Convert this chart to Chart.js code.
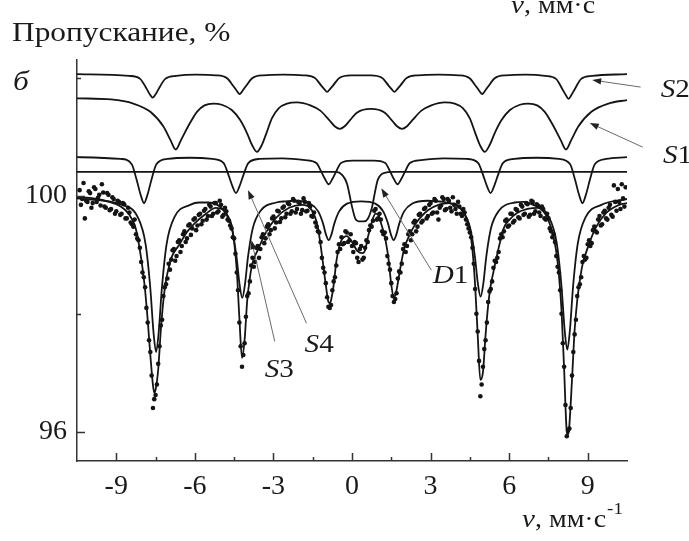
<!DOCTYPE html>
<html>
<head>
<meta charset="utf-8">
<script src="https://cdn.jsdelivr.net/npm/chart.js@4.4.1/dist/chart.umd.min.js"></script>
<style>
  html, body { margin: 0; padding: 0; background: #fff; }
  #wrap { position: relative; width: 689px; height: 541px; }
</style>
</head>
<body>
<div id="wrap"><canvas id="mossChart"></canvas></div>
<script>
// axis limits and ticks (v in mm/s, transmission in %)
const xMin = -10.5, xMax = 10.5;
const yMin = 95.5, yMax = 102.31;
const xTickValues = [-9, -6, -3, 0, 3, 6, 9];
const xMinorTicks = [-7.5, -4.5, -1.5, 1.5, 4.5, 7.5];
const yTickValues = [96, 100];
const yMinorTicks = [98, 102];

const gridStartA = -10.4, gridStartB = -10.35, gridStep = 0.1;
const pointTA = [
  100.10, 99.95, 99.62, 99.90, 100.05, 99.88, 100.12, 99.97, 99.84, 100.06,
  99.80, 100.02, 99.78, 99.95, 99.74, 99.90, 99.70, 99.86, 99.62, 99.72,
  99.52, 99.60, 99.28, 99.12, 98.70, 98.45, 97.85, 97.35, 96.40, 96.62,
  97.15, 97.80, 98.30, 98.50, 98.85, 98.92, 99.10, 98.98, 99.25, 99.15,
  99.40, 99.28, 99.52, 99.45, 99.62, 99.50, 99.70, 99.58, 99.78, 99.66,
  99.82, 99.70, 99.88, 99.74, 99.85, 99.68, 99.74, 99.58, 99.45, 99.28,
  98.70, 97.85, 97.10, 97.50, 98.30, 98.55, 98.95, 98.88, 99.15, 99.10,
  99.35, 99.28, 99.52, 99.42, 99.65, 99.55, 99.74, 99.62, 99.82, 99.70,
  99.86, 99.74, 99.92, 99.78, 99.88, 99.76, 99.90, 99.75, 99.82, 99.65,
  99.55, 99.40, 99.22, 98.78, 98.52, 98.12, 98.15, 98.55, 98.82, 99.18,
  99.30, 99.20, 99.38, 99.25, 99.15, 99.22, 98.95, 99.10, 98.92, 99.12,
  99.22, 99.50, 99.58, 99.78, 99.62, 99.60, 99.35, 99.28, 98.85, 98.52,
  98.20, 98.35, 98.72, 98.85, 99.18, 99.15, 99.40, 99.35, 99.58, 99.48,
  99.70, 99.58, 99.80, 99.66, 99.88, 99.72, 99.92, 99.60, 99.84, 99.95,
  99.78, 99.92, 99.74, 99.85, 99.70, 99.82, 99.66, 99.72, 99.52, 99.38,
  99.12, 98.42, 97.70, 96.60, 97.10, 97.55, 98.20, 98.42, 98.78, 98.88,
  99.05, 99.35, 99.40, 99.60, 99.50, 99.70, 99.58, 99.76, 99.62, 99.82,
  99.70, 99.86, 99.68, 99.90, 99.74, 99.84, 99.66, 99.78, 99.60, 99.62,
  99.40, 99.35, 98.98, 98.70, 98.00, 97.10, 95.92, 96.05, 96.95, 97.65,
  98.30, 98.50, 98.88, 98.92, 99.18, 99.15, 99.42, 99.40, 99.60, 99.50,
  99.72, 99.62, 99.80, 99.68, 100.18, 99.75, 99.90, 100.20, 99.82
];
const pointTB = [
  99.85, 100.22, 99.92, 100.08, 99.80, 100.15, 99.90, 100.02, 100.20, 99.82,
  100.05, 99.76, 99.98, 99.70, 99.92, 99.68, 99.88, 99.62, 99.80, 99.55,
  99.48, 99.35, 99.25, 98.88, 98.62, 98.10, 97.55, 96.95, 96.55, 96.80,
  97.45, 97.90, 98.45, 98.60, 98.75, 99.08, 98.90, 99.22, 99.05, 99.35,
  99.22, 99.50, 99.34, 99.60, 99.42, 99.68, 99.52, 99.75, 99.60, 99.85,
  99.66, 99.88, 99.72, 99.92, 99.65, 99.80, 99.60, 99.50, 99.30, 99.02,
  98.40, 97.45, 97.30, 97.95, 98.35, 98.82, 98.80, 99.12, 98.95, 99.30,
  99.20, 99.48, 99.35, 99.62, 99.45, 99.75, 99.56, 99.80, 99.64, 99.88,
  99.70, 99.95, 99.72, 99.90, 99.70, 99.96, 99.74, 99.88, 99.66, 99.72,
  99.48, 99.38, 98.95, 98.70, 98.28, 98.10, 98.40, 98.62, 99.05, 99.10,
  99.18, 99.40, 99.22, 99.35, 99.05, 99.20, 98.88, 99.15, 98.95, 99.25,
  99.42, 99.48, 99.75, 99.60, 99.70, 99.40, 99.38, 98.98, 98.75, 98.30,
  98.25, 98.60, 98.70, 99.10, 99.05, 99.35, 99.25, 99.55, 99.40, 99.68,
  99.55, 99.78, 99.62, 99.85, 99.70, 99.95, 99.72, 99.80, 99.98, 99.76,
  99.95, 99.80, 99.98, 99.78, 99.90, 99.70, 99.78, 99.60, 99.45, 99.30,
  98.85, 98.00, 97.20, 96.80, 97.40, 97.85, 98.38, 98.55, 98.90, 98.95,
  99.28, 99.30, 99.58, 99.48, 99.70, 99.55, 99.78, 99.64, 99.85, 99.68,
  99.88, 99.65, 99.92, 99.70, 99.86, 99.72, 99.82, 99.62, 99.70, 99.45,
  99.30, 99.22, 98.80, 98.40, 97.50, 96.45, 96.02, 96.40, 97.35, 97.90,
  98.45, 98.62, 98.98, 98.95, 99.25, 99.20, 99.48, 99.38, 99.66, 99.52,
  99.75, 99.60, 99.85, 99.65, 99.90, 100.12, 99.78, 99.96, 100.15
];

// fitted envelope [v, T]
const fitTotal = [
  [-10.5, 99.98], [-10.0, 99.97], [-9.5, 99.93], [-9.0, 99.86], [-8.7, 99.78], [-8.5, 99.68],
  [-8.3, 99.51], [-8.2, 99.34], [-8.1, 99.08], [-8.0, 98.78], [-7.9, 98.40], [-7.8, 97.89],
  [-7.7, 97.30], [-7.6, 96.79], [-7.55, 96.66], [-7.5, 96.71], [-7.4, 97.05], [-7.3, 97.72],
  [-7.2, 98.23], [-7.1, 98.57], [-7.0, 98.78], [-6.9, 98.95], [-6.6, 99.17], [-6.3, 99.39],
  [-6.0, 99.54], [-5.6, 99.69], [-5.2, 99.80], [-4.9, 99.76], [-4.7, 99.63], [-4.6, 99.51],
  [-4.5, 99.22], [-4.4, 98.74], [-4.3, 97.93], [-4.2, 97.25], [-4.1, 97.56], [-4.0, 98.23],
  [-3.9, 98.61], [-3.8, 98.86], [-3.6, 99.08], [-3.3, 99.37], [-2.9, 99.63], [-2.4, 99.80],
  [-1.9, 99.85], [-1.6, 99.80], [-1.4, 99.63], [-1.3, 99.46], [-1.2, 99.17], [-1.1, 98.83],
  [-1.0, 98.49], [-0.9, 98.20], [-0.85, 98.18], [-0.8, 98.23], [-0.7, 98.49], [-0.6, 98.88],
  [-0.5, 99.12], [-0.4, 99.25], [-0.2, 99.32], [0.0, 99.22], [0.2, 99.07], [0.4, 99.03],
  [0.5, 99.08], [0.6, 99.29], [0.7, 99.46], [0.8, 99.62], [0.9, 99.70], [1.0, 99.68],
  [1.1, 99.55], [1.2, 99.40], [1.3, 99.20], [1.4, 98.91], [1.5, 98.49], [1.6, 98.27],
  [1.7, 98.40], [1.8, 98.66], [1.9, 98.91], [2.0, 99.12], [2.2, 99.34], [2.4, 99.51],
  [2.6, 99.63], [2.9, 99.76], [3.3, 99.85], [3.7, 99.88], [4.0, 99.85], [4.2, 99.76],
  [4.4, 99.59], [4.5, 99.42], [4.6, 99.08], [4.7, 98.49], [4.8, 97.64], [4.9, 96.88],
  [5.0, 97.01], [5.1, 97.64], [5.2, 98.15], [5.3, 98.49], [5.4, 98.71], [5.6, 99.12],
  [5.8, 99.46], [6.0, 99.59], [6.3, 99.71], [6.7, 99.78], [7.1, 99.80], [7.4, 99.68],
  [7.6, 99.46], [7.7, 99.29], [7.8, 99.05], [7.9, 98.66], [8.0, 98.06], [8.1, 97.05],
  [8.2, 96.00], [8.25, 95.94], [8.3, 96.11], [8.4, 96.88], [8.5, 97.72], [8.6, 98.23],
  [8.7, 98.57], [8.8, 98.83], [9.0, 99.12], [9.3, 99.46], [9.7, 99.71], [10.2, 99.85],
  [10.5, 99.88]
];

// sextet S3 (sharp, drawn at the baseline)
const subS3 = [
  [-10.5, 99.96], [-8.78, 99.85], [-8.18, 99.64], [-7.88, 99.18], [-7.70, 98.43], [-7.58, 97.69],
  [-7.48, 97.35], [-7.38, 97.69], [-7.26, 98.43], [-7.08, 99.18], [-6.78, 99.64], [-6.18, 99.85],
  [-5.83, 99.89], [-5.49, 99.89], [-4.89, 99.75], [-4.59, 99.45], [-4.41, 98.97], [-4.29, 98.49],
  [-4.19, 98.27], [-4.09, 98.49], [-3.97, 98.97], [-3.79, 99.45], [-3.49, 99.75], [-2.89, 99.89],
  [-2.54, 99.91], [-2.19, 99.92], [-1.59, 99.87], [-1.29, 99.74], [-1.11, 99.54], [-0.99, 99.34],
  [-0.89, 99.25], [-0.79, 99.34], [-0.67, 99.54], [-0.49, 99.74], [-0.19, 99.87], [0.35, 99.91],
  [0.89, 99.87], [1.19, 99.74], [1.37, 99.54], [1.49, 99.34], [1.59, 99.25], [1.69, 99.34],
  [1.81, 99.54], [1.99, 99.74], [2.29, 99.87], [2.89, 99.92], [3.25, 99.91], [3.61, 99.89],
  [4.21, 99.75], [4.51, 99.46], [4.69, 98.98], [4.81, 98.50], [4.91, 98.29], [5.01, 98.50],
  [5.13, 98.98], [5.31, 99.46], [5.61, 99.75], [6.21, 99.89], [6.56, 99.90], [6.92, 99.85],
  [7.52, 99.64], [7.82, 99.19], [8.00, 98.46], [8.12, 97.72], [8.22, 97.39], [8.32, 97.72],
  [8.44, 98.46], [8.62, 99.19], [8.92, 99.64], [9.52, 99.85], [10.5, 99.95]
];

// doublet D1
const subD1 = [
  [-10.5, 100.41], [-0.6, 100.41], [-0.38, 100.36], [-0.19, 100.21], [0.0, 99.82], [0.13, 99.61],
  [0.25, 99.57], [0.45, 99.57], [0.6, 99.61], [0.77, 99.82], [0.87, 100.05], [0.98, 100.27],
  [1.21, 100.39], [1.6, 100.41], [10.5, 100.41]
];

// sextet S4
const subS4 = [
  [-10.5, 100.66], [-8.84, 100.63], [-8.41, 100.54], [-8.22, 100.27], [-8.07, 100.02], [-7.94, 99.88],
  [-7.81, 100.02], [-7.66, 100.27], [-7.47, 100.54], [-7.04, 100.63], [-6.2, 100.65],
  [-5.33, 100.63], [-4.90, 100.56], [-4.71, 100.35], [-4.56, 100.16], [-4.43, 100.05], [-4.30, 100.16],
  [-4.15, 100.35], [-3.96, 100.56], [-3.53, 100.63], [-2.66, 100.64],
  [-1.79, 100.61], [-1.36, 100.56], [-1.17, 100.41], [-1.02, 100.28], [-0.89, 100.20], [-0.76, 100.28],
  [-0.61, 100.41], [-0.42, 100.56], [0.01, 100.60], [0.43, 100.60],
  [0.84, 100.60], [1.27, 100.56], [1.46, 100.41], [1.61, 100.28], [1.74, 100.20], [1.87, 100.28],
  [2.02, 100.41], [2.21, 100.56], [2.64, 100.61], [3.5, 100.64],
  [4.39, 100.63], [4.82, 100.56], [5.01, 100.35], [5.16, 100.16], [5.29, 100.05], [5.42, 100.16],
  [5.57, 100.35], [5.76, 100.56], [6.19, 100.63], [7.05, 100.65],
  [7.90, 100.63], [8.33, 100.54], [8.52, 100.27], [8.67, 100.02], [8.80, 99.88], [8.93, 100.02],
  [9.08, 100.27], [9.27, 100.54], [9.70, 100.63], [10.5, 100.66]
];

// sextet S1 (broad lines)
const subS1 = [
  [-10.5, 101.66], [-9.2, 101.64], [-8.35, 101.57], [-7.7, 101.43], [-7.2, 101.18], [-6.93, 100.95],
  [-6.73, 100.79], [-6.53, 100.95], [-6.26, 101.18], [-5.92, 101.43], [-5.63, 101.54], [-5.29, 101.57],
  [-4.97, 101.55], [-4.59, 101.46], [-4.27, 101.29], [-4.01, 101.07], [-3.82, 100.87], [-3.63, 100.75],
  [-3.44, 100.87], [-3.25, 101.09], [-3.06, 101.32], [-2.80, 101.49], [-2.48, 101.57], [-2.10, 101.59],
  [-1.59, 101.54], [-1.21, 101.45], [-0.85, 101.28], [-0.65, 101.18], [-0.47, 101.14], [-0.29, 101.18],
  [-0.09, 101.28], [0.2, 101.42], [0.72, 101.48], [1.24, 101.42], [1.53, 101.28], [1.73, 101.18],
  [1.91, 101.14], [2.09, 101.18], [2.29, 101.28], [2.65, 101.45], [3.03, 101.54], [3.54, 101.59],
  [3.92, 101.57], [4.24, 101.49], [4.50, 101.32], [4.69, 101.09], [4.88, 100.87], [5.07, 100.75],
  [5.26, 100.87], [5.45, 101.07], [5.71, 101.29], [6.03, 101.46], [6.41, 101.55], [6.73, 101.57],
  [7.07, 101.54], [7.36, 101.43], [7.70, 101.18], [7.97, 100.95], [8.17, 100.79], [8.37, 100.95],
  [8.64, 101.18], [9.14, 101.43], [9.79, 101.57], [10.5, 101.63]
];

// sextet S2 (top)
const subS2 = [
  [-10.5, 102.07], [-8.51, 102.04], [-8.09, 101.99], [-7.84, 101.82], [-7.71, 101.72], [-7.61, 101.67],
  [-7.51, 101.72], [-7.38, 101.82], [-7.13, 101.99], [-6.71, 102.04], [-5.95, 102.06],
  [-5.19, 102.05], [-4.77, 102.00], [-4.52, 101.86], [-4.39, 101.78], [-4.29, 101.73], [-4.19, 101.78],
  [-4.06, 101.86], [-3.81, 102.00], [-3.39, 102.05], [-2.62, 102.06],
  [-1.85, 102.05], [-1.43, 102.01], [-1.18, 101.88], [-1.05, 101.81], [-0.95, 101.77], [-0.85, 101.81],
  [-0.72, 101.88], [-0.47, 102.01], [-0.05, 102.05], [0.33, 102.05],
  [0.72, 102.05], [1.14, 102.01], [1.39, 101.88], [1.52, 101.81], [1.62, 101.77], [1.72, 101.81],
  [1.85, 101.88], [2.10, 102.01], [2.52, 102.05], [3.30, 102.06],
  [4.07, 102.05], [4.49, 102.00], [4.74, 101.86], [4.87, 101.78], [4.97, 101.73], [5.07, 101.78],
  [5.20, 101.86], [5.45, 102.00], [5.87, 102.05], [6.62, 102.06],
  [7.37, 102.04], [7.79, 101.99], [8.04, 101.81], [8.17, 101.71], [8.27, 101.65], [8.37, 101.71],
  [8.50, 101.81], [8.75, 101.99], [9.17, 102.04], [10.5, 102.07]
];

// component labels with arrows, in data units
const labelNames = ['S2', 'S1', 'D1', 'S4', 'S3'];
const labelAt = [[11.79, 101.68], [11.87, 100.56], [3.08, 98.52], [-1.81, 97.35], [-3.33, 96.93]];
const arrowFrom = [[11.02, 101.85], [11.10, 100.83], [3.03, 98.74], [-1.74, 97.84], [-2.95, 97.53]];
const arrowTo = [[9.17, 101.97], [9.08, 101.24], [1.12, 100.13], [-3.97, 100.10], [-3.84, 99.25]];

const serif = "'Liberation Serif', 'Times New Roman', Times, serif";
const ink = '#141414';
const stretch = 1.12;

function toXY(pairs) {
  return pairs.map(function(p){ return {x: p[0], y: p[1]}; });
}

function curve(pairs) {
  return {
    type: 'line',
    data: toXY(pairs),
    borderColor: ink,
    borderWidth: 1.8,
    pointRadius: 0,
    fill: false,
    cubicInterpolationMode: 'monotone'
  };
}

let points = [];
for (let i = 0; i < pointTA.length; i++) {
  points.push({x: gridStartA + i * gridStep, y: pointTA[i]});
}
for (let i = 0; i < pointTB.length; i++) {
  points.push({x: gridStartB + i * gridStep, y: pointTB[i]});
}

function wideText(ctx, txt, x, y) {
  ctx.save();
  ctx.translate(x, y);
  ctx.scale(stretch, 1);
  ctx.fillText(txt, 0, 0);
  ctx.restore();
  return ctx.measureText(txt).width * stretch;
}

// "S" in italics, index upright
function seriesLabel(ctx, name, x, y) {
  ctx.font = 'italic 26px ' + serif;
  let w = wideText(ctx, name.charAt(0), x, y);
  ctx.font = '26px ' + serif;
  wideText(ctx, name.slice(1), x + w, y);
}

function velocityLabel(ctx, x, y, withPower) {
  ctx.font = 'italic 26px ' + serif;
  let w = wideText(ctx, 'v', x, y);
  ctx.font = '25px ' + serif;
  w += wideText(ctx, ', мм·с', x + w, y);
  if (withPower) {
    ctx.font = '17px ' + serif;
    wideText(ctx, '-1', x + w + 1, y - 13);
  }
}

const decor = {
  id: 'decor',
  afterDraw(chart) {
    const ctx = chart.ctx;
    const xs = chart.scales.x, ys = chart.scales.y;
    const area = chart.chartArea;
    ctx.save();

    // inner tick marks
    ctx.strokeStyle = '#333';
    ctx.lineWidth = 1.5;
    ctx.beginPath();
    xTickValues.forEach(function(v){
      let px = Math.round(xs.getPixelForValue(v)) + 0.5;
      ctx.moveTo(px, area.bottom); ctx.lineTo(px, area.bottom - 8);
    });
    xMinorTicks.forEach(function(v){
      let px = Math.round(xs.getPixelForValue(v)) + 0.5;
      ctx.moveTo(px, area.bottom); ctx.lineTo(px, area.bottom - 4);
    });
    yTickValues.forEach(function(v){
      let py = Math.round(ys.getPixelForValue(v)) + 0.5;
      ctx.moveTo(area.left, py); ctx.lineTo(area.left + 8, py);
    });
    yMinorTicks.forEach(function(v){
      let py = Math.round(ys.getPixelForValue(v)) + 0.5;
      ctx.moveTo(area.left, py); ctx.lineTo(area.left + 4, py);
    });
    ctx.stroke();

    // arrows to the components
    for (let i = 0; i < labelNames.length; i++) {
      let x1 = xs.getPixelForValue(arrowFrom[i][0]), y1 = ys.getPixelForValue(arrowFrom[i][1]);
      let x2 = xs.getPixelForValue(arrowTo[i][0]), y2 = ys.getPixelForValue(arrowTo[i][1]);
      let ang = Math.atan2(y2 - y1, x2 - x1);
      ctx.strokeStyle = '#6a6a6a';
      ctx.lineWidth = 1;
      ctx.beginPath();
      ctx.moveTo(x1, y1);
      ctx.lineTo(x2 - 6 * Math.cos(ang), y2 - 6 * Math.sin(ang));
      ctx.stroke();
      ctx.fillStyle = '#222';
      ctx.beginPath();
      ctx.moveTo(x2, y2);
      ctx.lineTo(x2 - 9 * Math.cos(ang) + 3.2 * Math.sin(ang), y2 - 9 * Math.sin(ang) - 3.2 * Math.cos(ang));
      ctx.lineTo(x2 - 9 * Math.cos(ang) - 3.2 * Math.sin(ang), y2 - 9 * Math.sin(ang) + 3.2 * Math.cos(ang));
      ctx.closePath();
      ctx.fill();
    }

    // texts
    ctx.fillStyle = '#1a1a1a';
    ctx.textBaseline = 'alphabetic';
    ctx.textAlign = 'left';
    for (let i = 0; i < labelNames.length; i++) {
      seriesLabel(ctx, labelNames[i], xs.getPixelForValue(labelAt[i][0]), ys.getPixelForValue(labelAt[i][1]));
    }

    ctx.font = '28px ' + serif;
    wideText(ctx, 'Пропускание, %', 12, 41);
    ctx.font = 'italic 28px ' + serif;
    wideText(ctx, 'б', 13, 90);

    velocityLabel(ctx, 511, 13, false);
    velocityLabel(ctx, 522, 527, true);

    ctx.restore();
  }
};

let ctx = document.getElementById('mossChart').getContext('2d');
let mossChart = new Chart(ctx, {
  data: {
    datasets: [
      curve(subS2),
      curve(subS1),
      curve(subS4),
      curve(subD1),
      curve(subS3),
      curve(fitTotal),
      {
        type: 'scatter',
        data: points,
        pointRadius: 2.3,
        pointBackgroundColor: ink,
        pointBorderWidth: 0,
        showLine: false
      }
    ]
  },
  options: {
    responsive: true,
    maintainAspectRatio: false,
    animation: false,
    layout: { padding: { top: 60, right: 62, left: 0, bottom: 0 } },
    plugins: {
      legend: { display: false },
      tooltip: { enabled: false }
    },
    scales: {
      x: {
        type: 'linear',
        min: xMin,
        max: xMax,
        grid: { display: false, drawTicks: false },
        border: { display: true, color: '#333', width: 1.5 },
        afterBuildTicks: function(scale){ scale.ticks = xTickValues.map(function(v){ return {value: v}; }); },
        afterFit: function(scale){ scale.height = 80; },
        ticks: {
          padding: 9,
          color: '#1a1a1a',
          font: { family: serif, size: 28 },
          maxRotation: 0
        }
      },
      y: {
        type: 'linear',
        min: yMin,
        max: yMax,
        grid: { display: false, drawTicks: false },
        border: { display: true, color: '#333', width: 1.5 },
        afterBuildTicks: function(scale){ scale.ticks = yTickValues.map(function(v){ return {value: v}; }); },
        afterFit: function(scale){ scale.width = 77; },
        ticks: {
          padding: 10,
          color: '#1a1a1a',
          font: { family: serif, size: 28 }
        }
      }
    }
  },
  plugins: [decor]
});
</script>
</body>
</html>
